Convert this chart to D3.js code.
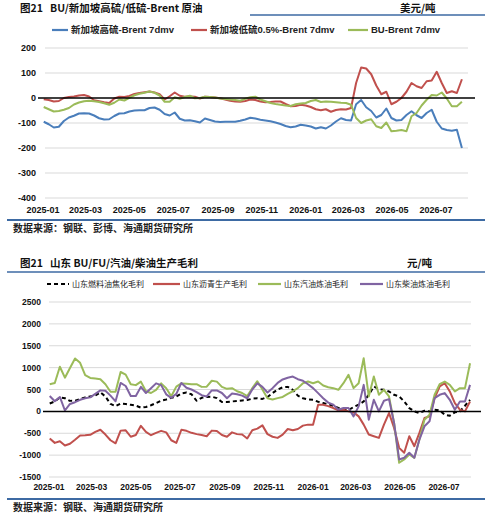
<!DOCTYPE html>
<html><head><meta charset="utf-8">
<script src="https://cdn.jsdelivr.net/npm/d3@7"></script>
<style>body{margin:0;background:#fff}svg{display:block}</style>
</head><body><svg id="c" width="498" height="521"></svg>
<script>
// weekly observation dates shared by both panels
const dates = ["2025-01-02","2025-01-09","2025-01-16","2025-01-23","2025-01-30","2025-02-06","2025-02-13","2025-02-20","2025-02-27","2025-03-06",
"2025-03-13","2025-03-20","2025-03-27","2025-04-03","2025-04-10","2025-04-17","2025-04-24","2025-05-01","2025-05-08","2025-05-15",
"2025-05-22","2025-05-29","2025-06-05","2025-06-12","2025-06-19","2025-06-26","2025-07-03","2025-07-10","2025-07-17","2025-07-24",
"2025-07-31","2025-08-07","2025-08-14","2025-08-21","2025-08-28","2025-09-04","2025-09-11","2025-09-18","2025-09-25","2025-10-02",
"2025-10-09","2025-10-16","2025-10-23","2025-10-30","2025-11-06","2025-11-13","2025-11-20","2025-11-27","2025-12-04","2025-12-11",
"2025-12-18","2025-12-25","2026-01-01","2026-01-08","2026-01-15","2026-01-22","2026-01-29","2026-02-05","2026-02-12","2026-02-19",
"2026-02-26","2026-03-05","2026-03-12","2026-03-19","2026-03-26","2026-04-02","2026-04-09","2026-04-16","2026-04-23","2026-04-30",
"2026-05-07","2026-05-14","2026-05-21","2026-05-28","2026-06-04","2026-06-11","2026-06-18","2026-06-25","2026-07-02","2026-07-09",
"2026-07-16","2026-07-23","2026-07-30","2026-08-06"];

const xTickLabels = ["2025-01","2025-03","2025-05","2025-07","2025-09","2025-11","2026-01","2026-03","2026-05","2026-07"];

// Panel 1: USD/t
const c1Names = ["新加坡高硫-Brent 7dmv","新加坡低硫0.5%-Brent 7dmv","BU-Brent 7dmv"];
const c1YTicks = [200,100,0,-100,-200,-300,-400];
const c1HSFO = [-95,-105,-118,-115,-92,-78,-71,-62,-61,-62,
-70,-81,-86,-85,-72,-62,-61,-54,-50,-49,
-49,-40,-38,-47,-64,-70,-58,-83,-90,-89,
-93,-98,-82,-88,-94,-96,-95,-95,-95,-91,
-86,-79,-82,-87,-90,-93,-98,-104,-112,-117,
-114,-107,-110,-114,-122,-117,-122,-110,-94,-81,
-88,-90,-25,-8,-37,-52,-78,-68,-42,-80,
-90,-88,-68,-53,-69,-80,-60,-47,-95,-122,
-128,-131,-127,-200];
const c1LSFO = [-5,-8,-14,-12,0,4,6,10,12,6,
-9,-13,-17,-20,-2,5,4,8,16,20,
23,26,22,15,-6,7,22,9,5,6,
5,-2,5,4,2,-1,-6,-11,-14,-15,
-12,-6,-8,-14,-17,-16,-14,-14,-24,-33,
-32,-27,-30,-36,-45,-49,-45,-55,-48,-45,
-46,-40,60,122,118,95,50,15,25,-25,
-15,0,25,60,47,40,67,70,105,60,
20,27,20,75];
const c1BU = [-36,-45,-54,-52,-47,-40,-26,-18,-13,-11,
-13,-16,-21,-27,-19,-6,-10,1,11,17,
21,26,21,10,-15,-15,3,-3,4,9,
-1,0,5,4,2,-2,-4,-6,-8,-11,
-3,3,5,-6,-13,-20,-24,-27,-30,-32,
-25,-22,-20,-12,-8,-16,-14,-15,-17,-19,
-20,-27,-80,-100,-90,-85,-113,-120,-98,-133,
-131,-128,-133,-73,-60,-30,-7,12,10,22,
-2,-33,-33,-15];

// Panel 2: CNY/t
const c2Names = ["山东燃料油焦化毛利","山东沥青生产毛利","山东汽油炼油毛利","山东柴油炼油毛利"];
const c2YTicks = [2500,2000,1500,1000,500,0,-500,-1000,-1500];
const c2Coking = [180,225,320,300,240,245,280,320,340,360,
435,340,170,120,180,170,150,130,85,100,
140,190,245,270,310,340,410,430,390,243,
310,330,335,303,215,215,227,237,250,260,
290,300,285,330,417,500,550,560,493,360,
300,275,265,220,190,160,129,80,50,30,
100,152,227,379,568,508,493,455,379,341,
227,76,0,-38,15,0,38,23,-76,-99,
-23,0,129,265];
const c2Asphalt = [-620,-720,-682,-780,-740,-650,-553,-546,-535,-470,
-420,-530,-660,-730,-440,-432,-580,-540,-330,-470,
-545,-490,-445,-480,-660,-720,-420,-445,-490,-520,
-540,-568,-440,-450,-540,-580,-480,-520,-530,-620,
-430,-395,-320,-520,-580,-606,-530,-402,-432,-402,
-326,-303,-303,152,152,120,76,23,38,0,
-23,-114,-303,-530,-568,-606,-303,-38,-379,-834,
-947,-568,-796,-493,-152,-114,303,568,644,455,
190,38,0,227];
const c2Gasoline = [622,650,1020,770,990,1210,1110,830,765,750,
735,620,450,450,900,840,620,600,680,460,
420,490,640,530,345,565,640,630,622,622,
560,565,700,680,560,515,530,460,420,350,
530,690,500,300,270,303,330,400,460,531,
644,682,644,682,590,550,531,493,644,834,
531,644,1213,341,796,379,493,341,-265,-1175,
-1099,-985,-1061,-644,-190,-76,379,622,682,606,
455,531,531,1099];
const c2Diesel = [350,230,330,20,170,210,265,300,320,400,
480,470,360,230,650,580,350,350,560,420,
530,640,600,390,310,400,650,540,500,440,
370,341,480,480,420,300,410,390,360,300,
500,640,560,432,531,650,730,770,796,735,
700,620,531,417,300,200,152,38,76,76,
-114,114,606,-190,265,0,243,280,-265,-1099,
-1061,-947,-1061,-644,-341,-227,303,379,417,265,
38,227,227,606];

const parseD = d3.timeParse("%Y-%m-%d");
const parseM = d3.timeParse("%Y-%m");
const dts = dates.map(parseD);
const FONT = "'Liberation Sans','Noto Sans CJK SC',sans-serif";
const CJK = "'Noto Sans CJK SC','Liberation Sans',sans-serif";
const RULE = "#3d6aa3";
const svg = d3.select("#c");

function panel(o){
  const g = svg.append("g");
  const x = d3.scaleTime().domain([parseM("2025-01"), parseM("2026-07")]).range(o.xr);
  const y = d3.scaleLinear().domain(o.yd).range(o.yr);
  g.selectAll(".grid").data(o.yTicks.filter(v=>v!==0)).join("line")
    .attr("x1",o.gx[0]).attr("x2",o.gx[1]).attr("y1",d=>y(d)).attr("y2",d=>y(d))
    .attr("stroke","#d9d9d9").attr("stroke-width",1);
  g.selectAll(".yl").data(o.yTicks).join("text")
    .attr("x",o.ylx).attr("y",d=>y(d)).attr("dy","0.36em").attr("text-anchor","end")
    .attr("font-family",FONT).attr("font-weight","bold").attr("font-size",o.fs).attr("fill","#111")
    .text(d=>d);
  g.selectAll(".xl").data(xTickLabels).join("text")
    .attr("x",d=>x(parseM(d))).attr("y",o.xly).attr("text-anchor","middle")
    .attr("font-family",FONT).attr("font-weight","bold").attr("font-size",o.fs).attr("fill","#111")
    .text(d=>d);
  o.series.forEach(s=>{
    const line = d3.line().x((d,i)=>x(dts[i])).y(d=>y(d));
    g.append("path").attr("d",line(s.values)).attr("fill","none")
      .attr("stroke",s.color).attr("stroke-width",s.w||2)
      .attr("stroke-linejoin","round")
      .attr("stroke-dasharray",s.dash||null);
  });
  g.append("line").attr("x1",o.zx[0]).attr("x2",o.zx[1]).attr("y1",y(0)).attr("y2",y(0))
    .attr("stroke","#000").attr("stroke-width",1.5);
  o.series.forEach(s=>{
    g.append("line").attr("x1",s.lx[0]).attr("x2",s.lx[1]).attr("y1",o.legY).attr("y2",o.legY)
      .attr("stroke",s.color).attr("stroke-width",2.2).attr("stroke-dasharray",s.dash||null);
    g.append("text").attr("x",s.lx[1]+3).attr("y",o.legY).attr("dy","0.36em")
      .attr("font-family",o.legFont).attr("font-weight",o.legWeight).attr("font-size",o.legFs).attr("fill","#222")
      .text(s.name);
  });
}

function header(t1,t2,ty,unit,ux,ruleY,ruleX0){
  svg.append("text").attr("x",20).attr("y",ty).attr("font-family",CJK).attr("font-weight","bold")
    .attr("font-size",10.5).attr("fill","#111").text(t1);
  svg.append("text").attr("x",50).attr("y",ty).attr("font-family",CJK).attr("font-weight","bold")
    .attr("font-size",10.5).attr("fill","#111").text(t2);
  svg.append("text").attr("x",ux).attr("y",ty).attr("font-family",CJK).attr("font-weight","bold")
    .attr("font-size",10.5).attr("fill","#111").text(unit);
  svg.append("line").attr("x1",ruleX0).attr("x2",485).attr("y1",ruleY).attr("y2",ruleY)
    .attr("stroke",RULE).attr("stroke-width",1.6);
}
function footer(y,txt,ty){
  svg.append("line").attr("x1",7).attr("x2",485).attr("y1",y).attr("y2",y)
    .attr("stroke",RULE).attr("stroke-width",2);
  svg.append("text").attr("x",13).attr("y",ty).attr("font-family",CJK).attr("font-weight","bold")
    .attr("font-size",10).attr("fill","#222").text(txt);
}

header("图21","BU/新加坡高硫/低硫-Brent 原油",12,"美元/吨",400,15,250);
panel({
  xr:[43,436], yd:[-400,200], yr:[198,48], yTicks:c1YTicks,
  gx:[45,468], zx:[38,475], ylx:36, xly:213, fs:9,
  legY:30, legFs:9.5, legFont:FONT, legWeight:"bold",
  series:[
    {name:c1Names[0], values:c1HSFO, color:"#4a7ebb", lx:[52,68]},
    {name:c1Names[1], values:c1LSFO, color:"#c0504d", lx:[191,207]},
    {name:c1Names[2], values:c1BU, color:"#9bbb59", lx:[348,368]}
  ]
});
footer(220,"数据来源：钢联、彭博、海通期货研究所",232);

header("图21","山东 BU/FU/汽油/柴油生产毛利",267,"元/吨",407,272,7);
panel({
  xr:[49,444], yd:[-1500,2500], yr:[477,302], yTicks:c2YTicks,
  gx:[49,471], zx:[43,481], ylx:41, xly:490, fs:8.5,
  legY:284, legFs:8, legFont:CJK, legWeight:"normal",
  series:[
    {name:c2Names[0], values:c2Coking, color:"#000", lx:[47,69], dash:"4,3"},
    {name:c2Names[1], values:c2Asphalt, color:"#c0504d", lx:[153,180]},
    {name:c2Names[2], values:c2Gasoline, color:"#9bbb59", lx:[258,281]},
    {name:c2Names[3], values:c2Diesel, color:"#8064a2", lx:[360,383]}
  ]
});
footer(499,"数据来源：钢联、海通期货研究所",511);
</script></body></html>
